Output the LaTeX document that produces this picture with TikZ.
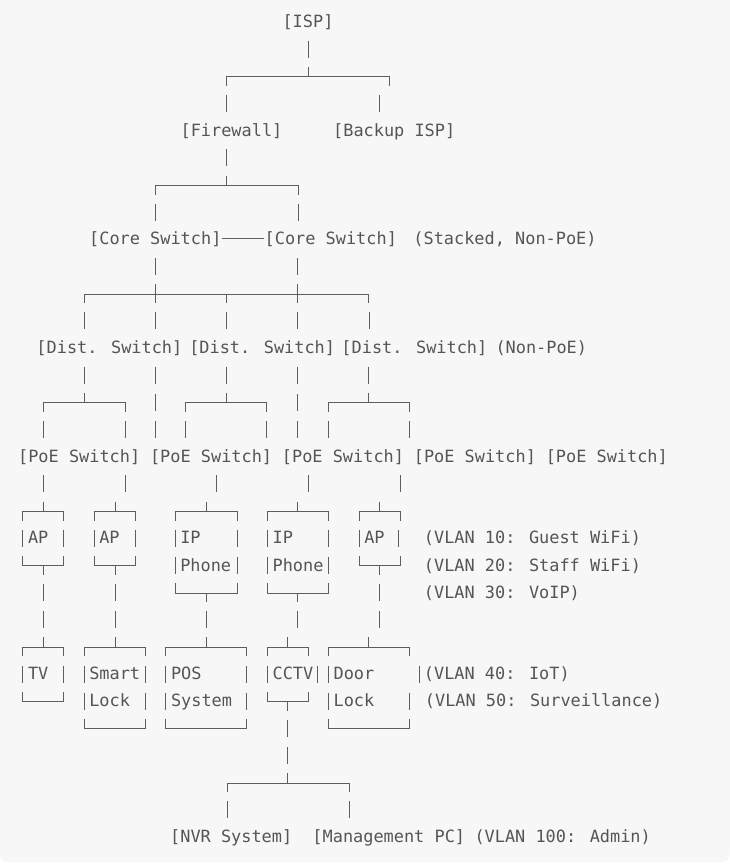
\documentclass[tikz,border=0pt]{standalone}
\usepackage{fontspec}
\newfontfamily\monof{DejaVu Sans Mono}
\definecolor{bgc}{HTML}{F7F7F7}
\definecolor{txt}{HTML}{555555}
\definecolor{lnc}{HTML}{5E5E5E}
\newcommand\Y[1]{(-21.5-27.17*#1)}
\newcommand\pp[2]{\draw[ln] (#1,{\Y{#2}+8}) -- (#1,{\Y{#2}-9});}
\newcommand\dd[2]{\draw[ln] (#1,{\Y{#2}-1}) -- (#1,{\Y{#2}-10});}
\newcommand\uu[2]{\draw[ln] (#1,{\Y{#2}+9}) -- (#1,{\Y{#2}-1});}
\newcommand\tbox[4]{\draw[ln] (#1,{\Y{#4}-10}) -- (#1,{\Y{#4}-1}) -- (#3,{\Y{#4}-1}) -- (#3,{\Y{#4}-10});\uu{#2}{#4}}
\newcommand\bbox[3]{\draw[ln] (#1,{\Y{#3}+9}) -- (#1,{\Y{#3}-1}) -- (#2,{\Y{#3}-1}) -- (#2,{\Y{#3}+9});}
\begin{document}
\begin{tikzpicture}[x=1pt,y=1pt,
  ln/.style={draw=lnc,line width=1pt},
  lab/.style={font=\monof\fontsize{16.9}{20}\selectfont,text=txt,inner sep=0pt,text height=12.2pt,text depth=0pt},
  labw/.style={lab,anchor=west}]
\useasboundingbox (0,0) rectangle (730,-868);
\begin{scope}
\clip (0,0) rectangle (730,-868);
\fill[bgc,rounded corners=8pt] (0,-862) rectangle (730,20);
\end{scope}
% row 0-4
\node[lab] (isp) at (308,{\Y{0}}) {[ISP]};
\pp{308}{1}
\tbox{226.7}{308}{389.7}{2}
\pp{226.7}{3}\pp{379.7}{3}
\node[lab] (fw) at (231.5,{\Y{4}}) {[Firewall]};
\node[lab] (bisp) at (394.2,{\Y{4}}) {[Backup ISP]};
% row 5-8
\pp{226.7}{5}
\tbox{155.7}{226.7}{298.3}{6}
\pp{155.7}{7}\pp{298.3}{7}
\node[lab] (cs1) at (155.3,{\Y{8}}) {[Core Switch]};
\node[lab] (cs2) at (330.8,{\Y{8}}) {[Core Switch]};
\draw[ln] (cs1.east) -- (cs2.west);
\node[lab] (nstack) at (505,{\Y{8}}) {(Stacked, Non-PoE)};
% row 9-12
\pp{155}{9}\pp{297.7}{9}
\draw[ln] (84,{\Y{10}-10}) -- (84,{\Y{10}-1}) -- (368.5,{\Y{10}-1}) -- (368.5,{\Y{10}-10});
\draw[ln] (155,{\Y{10}+9}) -- (155,{\Y{10}-10});
\draw[ln] (297.7,{\Y{10}+9}) -- (297.7,{\Y{10}-10});
\dd{226.7}{10}
\foreach \x in {84,155,226.7,297.7,369} {\pp{\x}{11}}
\node[lab] (ds1) at (109.4,{\Y{12}}) {[Dist. Switch]};
\node[lab] (ds2) at (262.2,{\Y{12}}) {[Dist. Switch]};
\node[lab] (ds3) at (414.4,{\Y{12}}) {[Dist. Switch]};
\node[lab] (nnonpoe) at (541.3,{\Y{12}}) {(Non-PoE)};
% row 13-16
\foreach \x in {84,155,226.7,297.7,368.3} {\pp{\x}{13}}
\tbox{43.3}{84}{125}{14}
\pp{155}{14}
\tbox{185.7}{226.7}{266.7}{14}
\pp{297.7}{14}
\tbox{328.3}{368.3}{409.3}{14}
\foreach \x in {43.3,125,155,185.7,266.7,297.7,328.3,409.3} {\pp{\x}{15}}
\node[lab] (ps1) at (79.2,{\Y{16}}) {[PoE Switch]};
\node[lab] (ps2) at (211.1,{\Y{16}}) {[PoE Switch]};
\node[lab] (ps3) at (343.0,{\Y{16}}) {[PoE Switch]};
\node[lab] (ps4) at (474.9,{\Y{16}}) {[PoE Switch]};
\node[lab] (ps5) at (606.8,{\Y{16}}) {[PoE Switch]};
% row 17-22
\foreach \x in {43.3,125,216.7,308.3,400} {\pp{\x}{17}}
\tbox{22.7}{43.3}{63.3}{18}
\tbox{94}{115}{135}{18}
\tbox{175}{206.7}{237.3}{18}
\tbox{267.3}{297.7}{328.3}{18}
\tbox{359}{379}{400}{18}
\foreach \x in {22.7,63.3,94,135,175,237.3,267.3,328.3,359,398.3} {\pp{\x}{19}}
\node[labw] (ap1) at (27.8,{\Y{19}}) {AP};
\node[labw] (ap2) at (99.1,{\Y{19}}) {AP};
\node[labw] (ipa) at (180.1,{\Y{19}}) {IP};
\node[labw] (ipb) at (272.4,{\Y{19}}) {IP};
\node[labw] (ap3) at (364.1,{\Y{19}}) {AP};
\node[labw] (v10) at (423.7,{\Y{19}}) {(VLAN 10: Guest WiFi)};
\bbox{22.7}{63.3}{20}\dd{43.3}{20}
\bbox{94}{135}{20}\dd{115}{20}
\foreach \x in {175,237.3,267.3,328.3} {\pp{\x}{20}}
\node[labw] (pha) at (180.1,{\Y{20}}) {Phone};
\node[labw] (phb) at (272.4,{\Y{20}}) {Phone};
\bbox{359}{400}{20}\dd{379}{20}
\node[labw] (v20) at (423.7,{\Y{20}}) {(VLAN 20: Staff WiFi)};
\pp{43.3}{21}\pp{115}{21}
\bbox{175}{237.3}{21}\dd{206.7}{21}
\bbox{267.3}{328.3}{21}\dd{297.7}{21}
\pp{379}{21}
\node[labw] (v30) at (423.7,{\Y{21}}) {(VLAN 30: VoIP)};
\foreach \x in {43.3,115,206.7,297.7,379} {\pp{\x}{22}}
% row 23-26
\tbox{22.7}{43.3}{63.3}{23}
\tbox{84}{115}{145}{23}
\tbox{165.7}{206.7}{246.7}{23}
\tbox{267.3}{287.3}{308.3}{23}
\tbox{328.3}{368.3}{409.3}{23}
\foreach \x in {22.7,63.3,84,145,165.7,246.7,267.3,317,328.3,419} {\pp{\x}{24}}
\node[labw] (tv) at (27.8,{\Y{24}}) {TV};
\node[labw] (smart) at (89.1,{\Y{24}}) {Smart};
\node[labw] (pos) at (170.8,{\Y{24}}) {POS};
\node[labw] (cctv) at (272.4,{\Y{24}}) {CCTV};
\node[labw] (door) at (333.4,{\Y{24}}) {Door};
\node[labw] (v40) at (423.7,{\Y{24}}) {(VLAN 40: IoT)};
\bbox{22.7}{63.3}{25}
\foreach \x in {84,145,165.7,246.7,328.3,409.3} {\pp{\x}{25}}
\node[labw] (lock1) at (89.1,{\Y{25}}) {Lock};
\node[labw] (sys) at (170.8,{\Y{25}}) {System};
\bbox{267.3}{308.3}{25}\dd{287.3}{25}
\node[labw] (lock2) at (333.4,{\Y{25}}) {Lock};
\node[labw] (v50) at (424.7,{\Y{25}}) {(VLAN 50: Surveillance)};
\bbox{84}{145}{26}
\bbox{165.7}{246.7}{26}
\pp{287.3}{26}
\bbox{328.3}{409.3}{26}
% row 27-30
\pp{287.3}{27}
\tbox{227.3}{287.3}{349}{28}
\pp{227.3}{29}\pp{349}{29}
\node[lab] (nvr) at (231.2,{\Y{30}}) {[NVR System]};
\node[lab] (mpc) at (388.8,{\Y{30}}) {[Management PC]};
\node[labw] (v100) at (474.3,{\Y{30}}) {(VLAN 100: Admin)};
\end{tikzpicture}
\end{document}
